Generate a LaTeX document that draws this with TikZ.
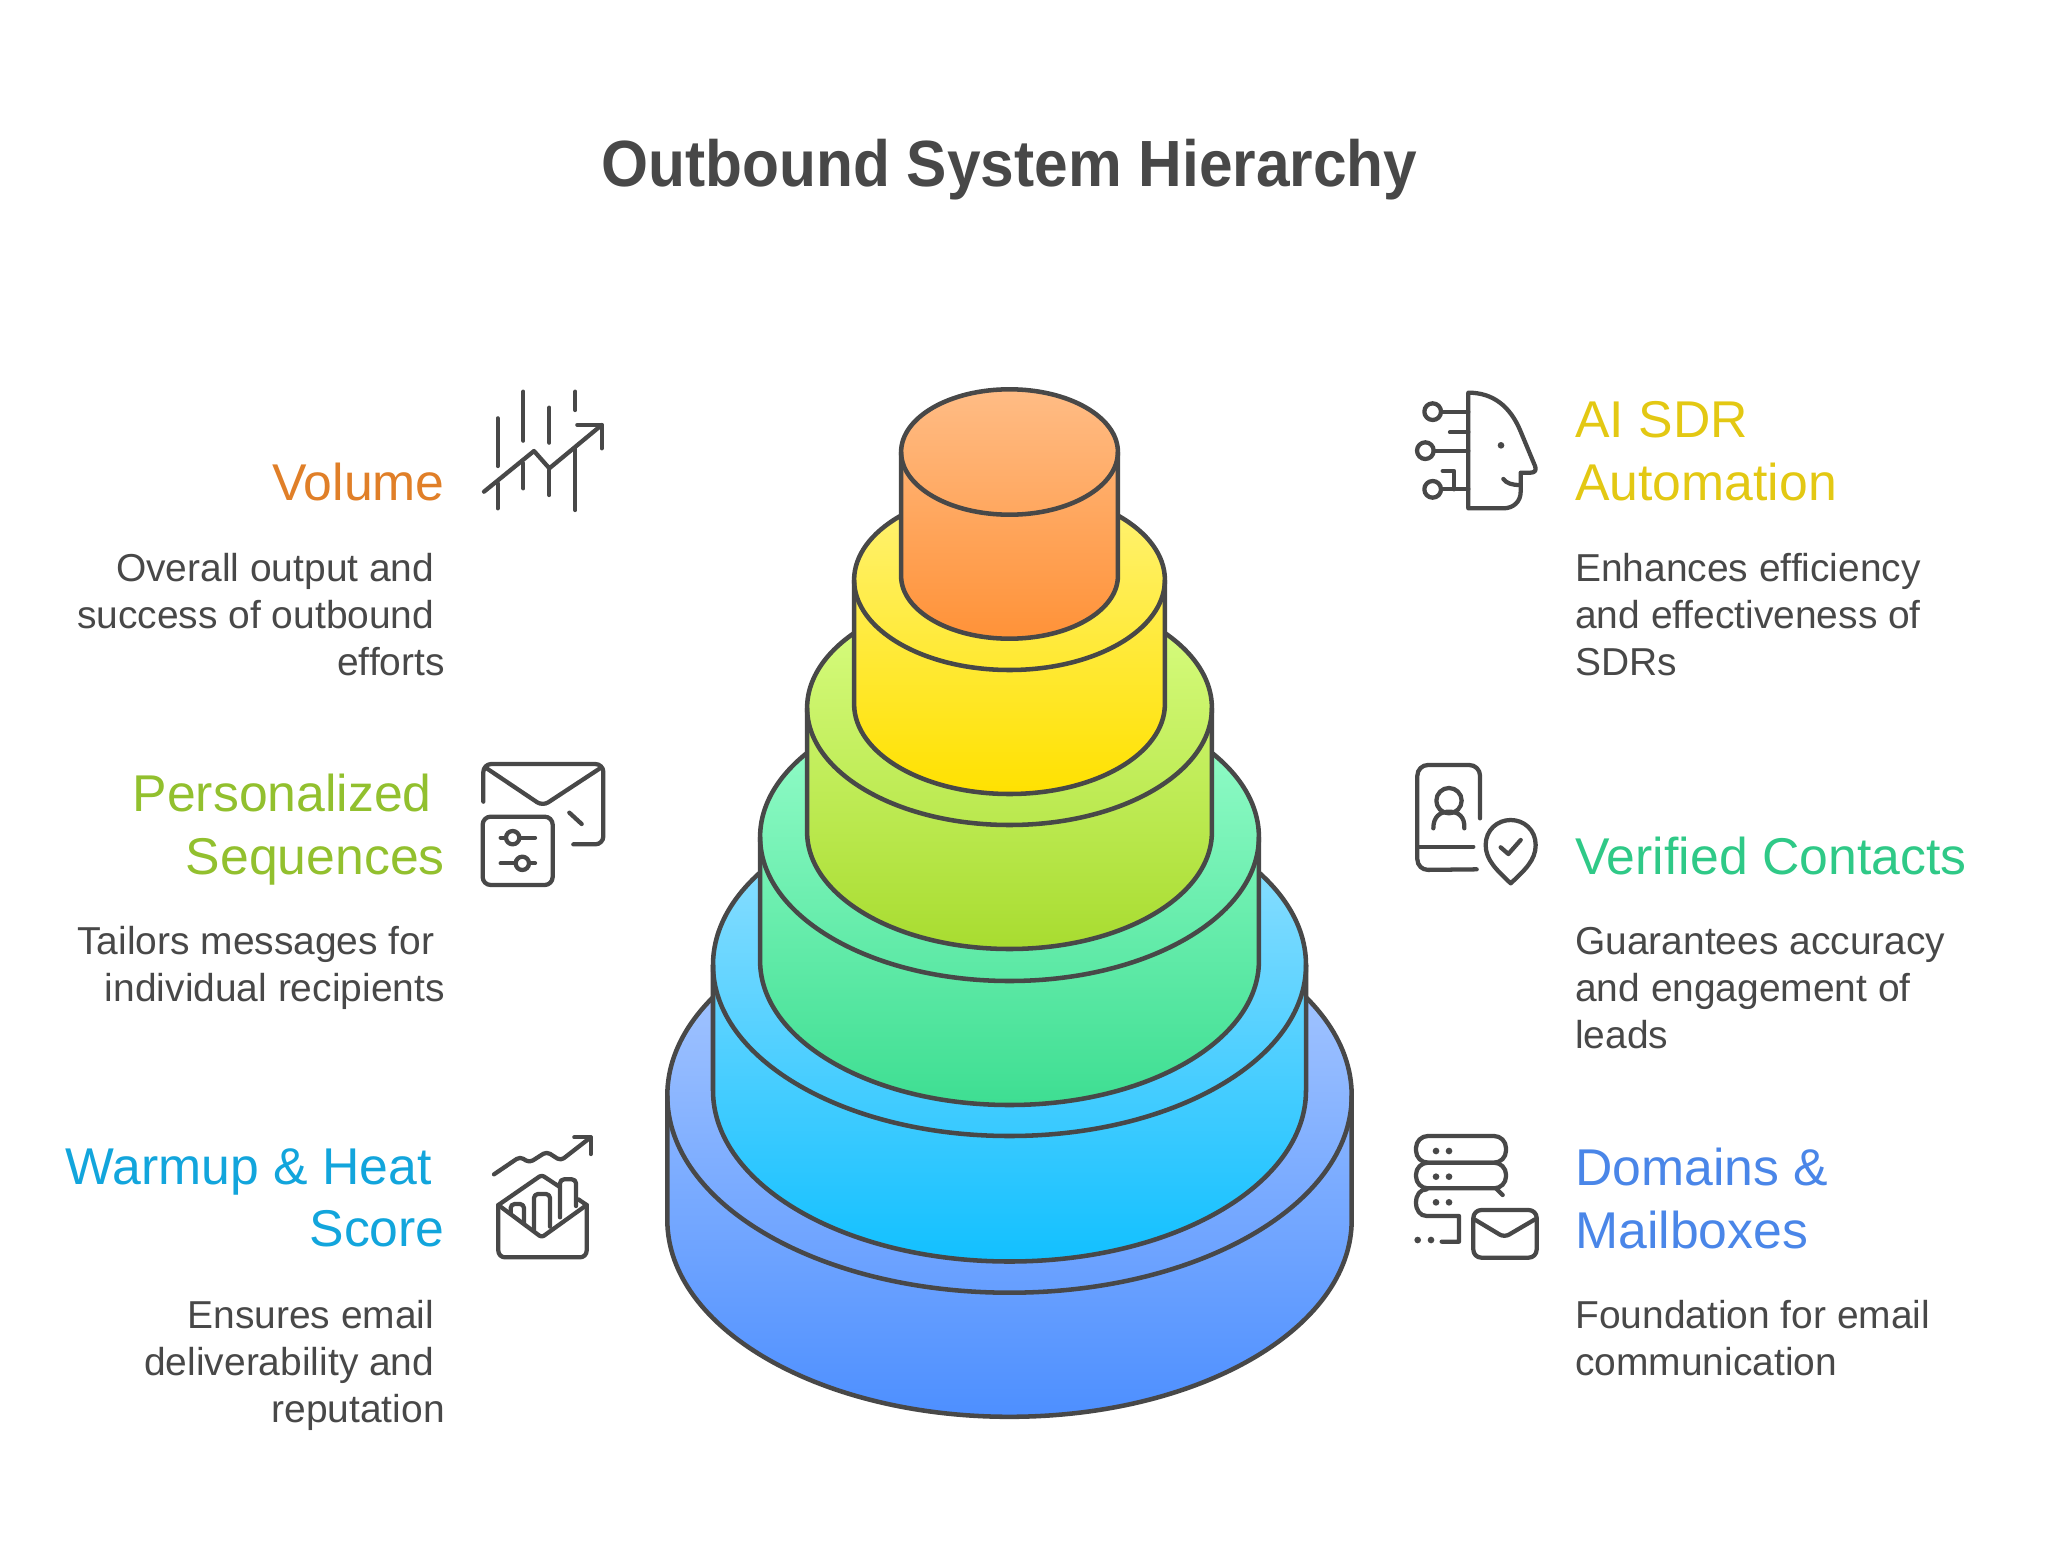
\documentclass[tikz,border=0pt]{standalone}
\usepackage{fontspec}
\setmainfont{Liberation Sans}
\newfontfamily\titlefont[FakeStretch=0.925]{Liberation Sans}
\usepackage{xcolor}
\definecolor{ink}{RGB}{72,72,72}
\definecolor{bluetop}{RGB}{178,206,255}
\definecolor{bluebot}{RGB}{77,143,255}
\definecolor{cyantop}{RGB}{155,226,255}
\definecolor{cyanbot}{RGB}{18,192,255}
\definecolor{greentop}{RGB}{155,255,205}
\definecolor{greenbot}{RGB}{62,222,146}
\definecolor{limetop}{RGB}{219,255,133}
\definecolor{limebot}{RGB}{168,220,48}
\definecolor{yellowtop}{RGB}{255,243,118}
\definecolor{yellowbot}{RGB}{255,225,0}
\definecolor{orangetop}{RGB}{255,188,133}
\definecolor{orangebot}{RGB}{255,146,56}
\definecolor{volumecol}{RGB}{224,127,40}
\definecolor{seqcol}{RGB}{146,192,46}
\definecolor{warmcol}{RGB}{18,165,220}
\definecolor{aicol}{RGB}{227,200,19}
\definecolor{verifiedcol}{RGB}{47,201,135}
\definecolor{domaincol}{RGB}{74,134,232}
\newcommand{\headgap}{\rule{9.75pt}{0pt}}
\newcommand{\bodygap}{\rule{7.8pt}{0pt}}
\tikzset{
  layerline/.style={draw=ink,line width=3.4pt,line join=round},
  iconline/.style={draw=ink,line width=3.2pt,line cap=round,line join=round},
  iconzoom/.style={x=0.25pt,y=0.25pt},
  headtext/.style={inner sep=0pt,font=\fontsize{38.8}{47}\selectfont},
  bodytext/.style={inner sep=0pt,text=ink,font=\fontsize{29.2}{35.25}\selectfont},
}

\begin{document}
\begin{tikzpicture}[x=0.75pt,y=0.75pt,yscale=-1,xscale=1]
  \useasboundingbox (0,0) rectangle (2048,1555);

  % stack, bottom layer first
  \draw [layerline,top color=bluetop,bottom color=bluebot] (667.3,1095.7) arc[start angle=180,end angle=360,x radius=342.2,y radius=197] -- (1351.7,1219.8) arc[start angle=0,end angle=180,x radius=342.2,y radius=197] -- cycle;
  \draw [layerline] (667.3,1095.7) arc[start angle=180,end angle=0,x radius=342.2,y radius=197];
  \draw [layerline,top color=cyantop,bottom color=cyanbot] (713,965) arc[start angle=180,end angle=360,x radius=296.5,y radius=171] -- (1306,1090.5) arc[start angle=0,end angle=180,x radius=296.5,y radius=171] -- cycle;
  \draw [layerline] (713,965) arc[start angle=180,end angle=0,x radius=296.5,y radius=171];
  \draw [layerline,top color=greentop,bottom color=greenbot] (760.1,837) arc[start angle=180,end angle=360,x radius=249.4,y radius=144] -- (1258.9,961) arc[start angle=0,end angle=180,x radius=249.4,y radius=144] -- cycle;
  \draw [layerline] (760.1,837) arc[start angle=180,end angle=0,x radius=249.4,y radius=144];
  \draw [layerline,top color=limetop,bottom color=limebot] (807.1,708) arc[start angle=180,end angle=360,x radius=202.4,y radius=117] -- (1211.9,832) arc[start angle=0,end angle=180,x radius=202.4,y radius=117] -- cycle;
  \draw [layerline] (807.1,708) arc[start angle=180,end angle=0,x radius=202.4,y radius=117];
  \draw [layerline,top color=yellowtop,bottom color=yellowbot] (854.1,580) arc[start angle=180,end angle=360,x radius=155.4,y radius=90] -- (1164.9,704) arc[start angle=0,end angle=180,x radius=155.4,y radius=90] -- cycle;
  \draw [layerline] (854.1,580) arc[start angle=180,end angle=0,x radius=155.4,y radius=90];
  \draw [layerline,top color=orangetop,bottom color=orangebot] (901.1,452) arc[start angle=180,end angle=360,x radius=108.4,y radius=62.7] -- (1117.9,576) arc[start angle=0,end angle=180,x radius=108.4,y radius=62.7] -- cycle;
  \draw [layerline] (901.1,452) arc[start angle=180,end angle=0,x radius=108.4,y radius=62.7];

  % title
  \node (title) [anchor=base,inner sep=0pt,text=ink,font=\fontsize{49}{54}\titlefont\bfseries] at (1009.5,187) {Outbound System Hierarchy};

  % left column
  \node (volume) [headtext,anchor=north east,text=volumecol,align=right] at (445,463) {Volume};
  \node (volumetxt) [bodytext,anchor=north east,align=right] at (445,553) {Overall output and\bodygap\\success of outbound\bodygap\\efforts};
  \node (seq) [headtext,anchor=north east,text=seqcol,align=right] at (445,774) {Personalized\headgap\\Sequences};
  \node (seqtxt) [bodytext,anchor=north east,align=right] at (445,926) {Tailors messages for\bodygap\\individual recipients};
  \node (warm) [headtext,anchor=north east,text=warmcol,align=right] at (445,1148) {Warmup \& Heat\headgap\\Score};
  \node (warmtxt) [bodytext,anchor=north east,align=right] at (445,1300) {Ensures email\bodygap\\deliverability and\bodygap\\reputation};

  % right column
  \node (ai) [headtext,anchor=north west,text=aicol,align=left] at (1575,401) {AI SDR\\Automation};
  \node (aitxt) [bodytext,anchor=north west,align=left] at (1575,553) {Enhances efficiency\\and effectiveness of\\SDRs};
  \node (verified) [headtext,anchor=north west,text=verifiedcol,align=left] at (1575,837) {Verified Contacts};
  \node (verifiedtxt) [bodytext,anchor=north west,align=left] at (1575,927) {Guarantees accuracy\\and engagement of\\leads};
  \node (domain) [headtext,anchor=north west,text=domaincol,align=left] at (1575,1148) {Domains \&\\Mailboxes};
  \node (domaintxt) [bodytext,anchor=north west,align=left] at (1575,1300) {Foundation for email\\communication};

  % icon volume
  \begin{scope}[shift={(470,370)},iconzoom]
    \draw [iconline] (83,145) -- (83,288);
    \draw [iconline] (83,340) -- (83,415);
    \draw [iconline] (160,65) -- (160,212);
    \draw [iconline] (160,280) -- (160,355);
    \draw [iconline] (238,113) -- (238,218);
    \draw [iconline] (238,300) -- (238,375);
    \draw [iconline] (316,65) -- (316,120);
    \draw [iconline] (316,235) -- (316,420);
    \draw [iconline] (42,365) -- (192,243) -- (238,295) -- (395,165);
    \draw [iconline] (322,165) -- (395,165) -- (395,235);
  \end{scope}

  % icon sequences
  \begin{scope}[shift={(470,750)},iconzoom]
    \draw [iconline,rounded corners=6pt] (40,155) -- (40,42) -- (400,42) -- (400,283) -- (310,283);
    \draw [iconline,rounded corners=5pt] (50,55) -- (218,168) -- (390,55);
    \draw [iconline] (298,188) -- (335,222);
    \draw [iconline,rounded corners=6pt] (38,200) rectangle (248,405);
    \draw [iconline] (92,263) -- (195,263);
    \draw [iconline,fill=white] (128,263) circle (20);
    \draw [iconline] (92,340) -- (195,340);
    \draw [iconline,fill=white] (157,340) circle (20);
  \end{scope}

  % icon warmup
  \begin{scope}[shift={(470,1130)},iconzoom]
    \draw [iconline,rounded corners=3pt] (72,133) -- (150,80) -- (178,98) -- (230,65) -- (272,92) -- (362,22);
    \draw [iconline] (313,22) -- (362,22) -- (362,72);
    \draw [iconline,rounded corners=5pt] (85,225) -- (85,382) -- (350,382) -- (350,225);
    \draw [iconline,rounded corners=2pt] (85,225) -- (215,322) -- (350,225);
    \draw [iconline,rounded corners=2pt] (85,225) -- (215,135) -- (268,170);
    \draw [iconline] (325,208) -- (350,225);
    \draw [iconline,rounded corners=3pt] (122,248) -- (122,222) -- (162,222) -- (162,278);
    \draw [iconline,rounded corners=3pt] (192,300) -- (192,192) -- (240,192) -- (240,290);
    \draw [iconline,rounded corners=3pt] (270,262) -- (270,148) -- (318,148) -- (318,228);
  \end{scope}

  % icon head
  \begin{scope}[shift={(1410,380)},iconzoom]
    \draw [iconline] (175,385) -- (175,38) .. controls (250,38) and (300,80) .. (330,150) -- (375,258) .. controls (380,270) and (375,278) .. (362,278) -- (332,278) -- (332,335) .. controls (332,365) and (310,385) .. (280,385) -- cycle;
    \fill [ink] (273,196) circle (10);
    \draw [iconline] (280,297) .. controls (290,310) and (305,315) .. (330,315);
    \draw [iconline] (68,95) circle (25);
    \draw [iconline] (93,95) -- (175,95);
    \draw [iconline] (120,157) -- (175,157);
    \draw [iconline] (46,212) circle (25);
    \draw [iconline] (71,212) -- (175,212);
    \draw [iconline] (68,328) circle (25);
    \draw [iconline] (93,328) -- (175,328);
    \draw [iconline] (98,273) -- (132,273) -- (132,328);
  \end{scope}

  % icon contacts
  \begin{scope}[shift={(1410,760)},iconzoom]
    \draw [iconline,rounded corners=8pt] (210,175) -- (210,15) -- (22,15) -- (22,330) -- (200,328);
    \draw [iconline] (25,260) -- (190,260);
    \draw [iconline] (117,122) circle (38);
    \draw [iconline] (70,205) .. controls (70,170) and (90,155) .. (117,155) .. controls (145,155) and (165,170) .. (163,205);
    \draw [iconline] (302,370) .. controls (260,330) and (227,300) .. (227,255) .. controls (227,210) and (262,180) .. (302,180) .. controls (342,180) and (377,210) .. (377,255) .. controls (377,300) and (345,330) .. (302,370) -- cycle;
    \draw [iconline] (272,262) -- (295,282) -- (332,240);
  \end{scope}

  % icon mailboxes
  \begin{scope}[shift={(1410,1130)},iconzoom]
    \draw [iconline,rounded corners=9pt] (18,18) rectangle (288,98);
    \draw [iconline,rounded corners=9pt] (18,98) rectangle (288,175);
    \draw [iconline] (258,175) -- (278,195);
    \draw [iconline] (50,178) .. controls (30,178) and (18,195) .. (18,218) .. controls (18,240) and (30,258) .. (50,258) -- (147,258) -- (147,335) -- (95,335);
    \fill [ink] (78,63) circle (10) (117,63) circle (10);
    \fill [ink] (78,140) circle (10) (117,140) circle (10);
    \fill [ink] (78,217) circle (10) (117,217) circle (10);
    \fill [ink] (23,330) circle (10) (63,330) circle (10);
    \draw [iconline,rounded corners=6pt] (190,240) rectangle (380,383);
    \draw [iconline,rounded corners=4pt] (193,268) -- (283,322) -- (375,268);
  \end{scope}
\end{tikzpicture}
\end{document}
